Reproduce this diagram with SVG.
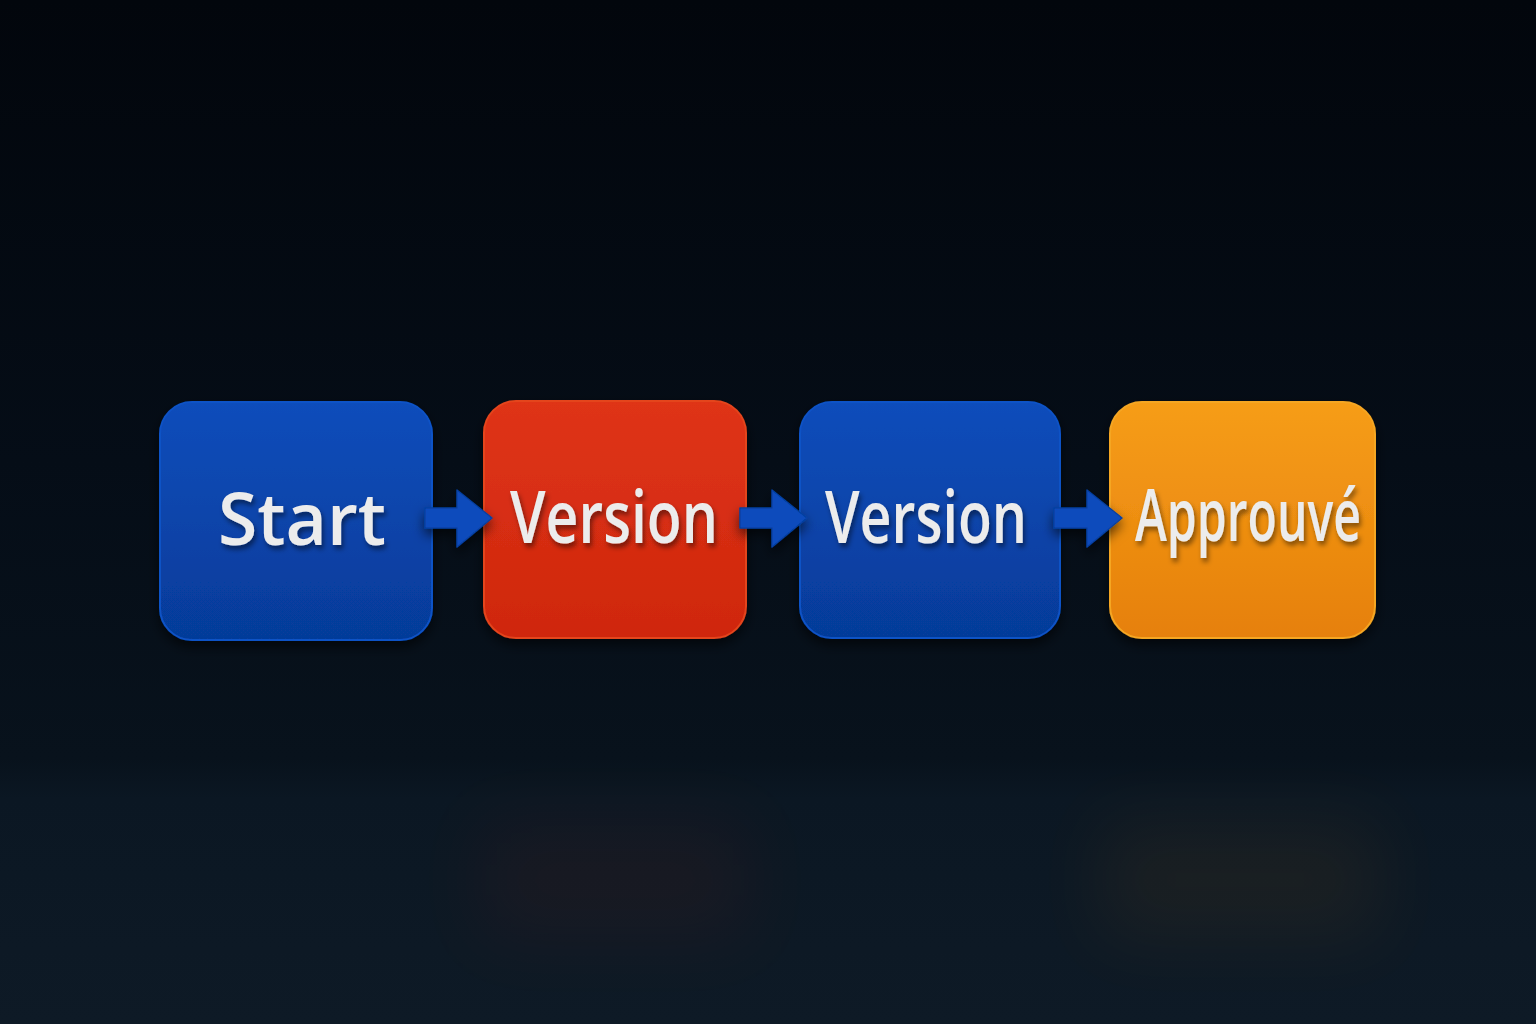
<svg xmlns="http://www.w3.org/2000/svg" width="1536" height="1024" viewBox="0 0 1536 1024">
  <defs>
    <linearGradient id="bg" x1="0" y1="0" x2="0" y2="1">
      <stop offset="0" stop-color="#02060c"/>
      <stop offset="0.45" stop-color="#050d17"/>
      <stop offset="0.74" stop-color="#08121c"/>
      <stop offset="0.78" stop-color="#0b1723"/>
      <stop offset="1" stop-color="#0e1a26"/>
    </linearGradient>
    <linearGradient id="gBlue" x1="0" y1="0" x2="0" y2="1">
      <stop offset="0" stop-color="#0a4dbb"/>
      <stop offset="1" stop-color="#063b99"/>
    </linearGradient>
    <linearGradient id="gRed" x1="0" y1="0" x2="0" y2="1">
      <stop offset="0" stop-color="#df3416"/>
      <stop offset="1" stop-color="#cf270e"/>
    </linearGradient>
    <linearGradient id="gOrange" x1="0" y1="0" x2="0" y2="1">
      <stop offset="0" stop-color="#f69d18"/>
      <stop offset="1" stop-color="#e6800a"/>
    </linearGradient>
    <filter id="nodeShadow" x="-20%" y="-20%" width="140%" height="150%">
      <feDropShadow dx="0" dy="6" stdDeviation="6" flood-color="#000" flood-opacity="0.6"/>
    </filter>
    <filter id="textShadow" x="-10%" y="-20%" width="120%" height="150%">
      <feDropShadow dx="2" dy="4" stdDeviation="2.5" flood-color="#000" flood-opacity="0.45"/>
    </filter>
    <filter id="blur" x="-50%" y="-50%" width="200%" height="200%">
      <feGaussianBlur stdDeviation="35"/>
    </filter>
    <style>
      .lbl { font-family: "Open Sans", "Noto Sans", "Liberation Sans", sans-serif; font-weight: 600; font-size: 72px; fill: #ececec; text-anchor: middle; filter: url(#textShadow); }
      .node { filter: url(#nodeShadow); }
      .edge { fill: #0a4cbc; stroke: #0740a3; stroke-width: 1.5; stroke-linejoin: round; filter: url(#nodeShadow); }
    </style>
  </defs>

  <rect x="0" y="0" width="1536" height="1024" fill="url(#bg)"/>
  <g opacity="0.06" filter="url(#blur)">
    <rect x="480" y="820" width="270" height="120" fill="#d3300f"/>
    <rect x="1100" y="820" width="280" height="120" fill="#f0900f"/>
  </g>

  <g id="node-start">
    <rect class="node" x="160" y="402" width="272" height="238" rx="32" fill="url(#gBlue)" stroke="#0b52c6" stroke-width="2"/>
    <text class="lbl" x="302" y="545" textLength="168" lengthAdjust="spacingAndGlyphs">Start</text>
  </g>
  <g id="node-version1">
    <rect class="node" x="484" y="401" width="262" height="237" rx="32" fill="url(#gRed)" stroke="#e4441c" stroke-width="2"/>
    <text class="lbl" x="614" y="543" textLength="208" lengthAdjust="spacingAndGlyphs">Version</text>
  </g>
  <g id="node-version2">
    <rect class="node" x="800" y="402" width="260" height="236" rx="32" fill="url(#gBlue)" stroke="#0b52c6" stroke-width="2"/>
    <text class="lbl" x="926" y="543" textLength="202" lengthAdjust="spacingAndGlyphs">Version</text>
  </g>
  <g id="node-approuve">
    <rect class="node" x="1110" y="402" width="265" height="236" rx="32" fill="url(#gOrange)" stroke="#f5a623" stroke-width="2"/>
    <text class="lbl" x="1248" y="541" textLength="226" lengthAdjust="spacingAndGlyphs">Approuvé</text>
  </g>

  <g id="connectors">
    <path class="edge" d="M425,508 L457,508 L457,490 L492,518 L457,547 L457,528 L425,528 Z"/>
    <path class="edge" d="M740,508 L772,508 L772,490 L807,518 L772,547 L772,528 L740,528 Z"/>
    <path class="edge" d="M1054,508 L1087,508 L1087,490 L1122,518 L1087,547 L1087,528 L1054,528 Z"/>
  </g>
</svg>
